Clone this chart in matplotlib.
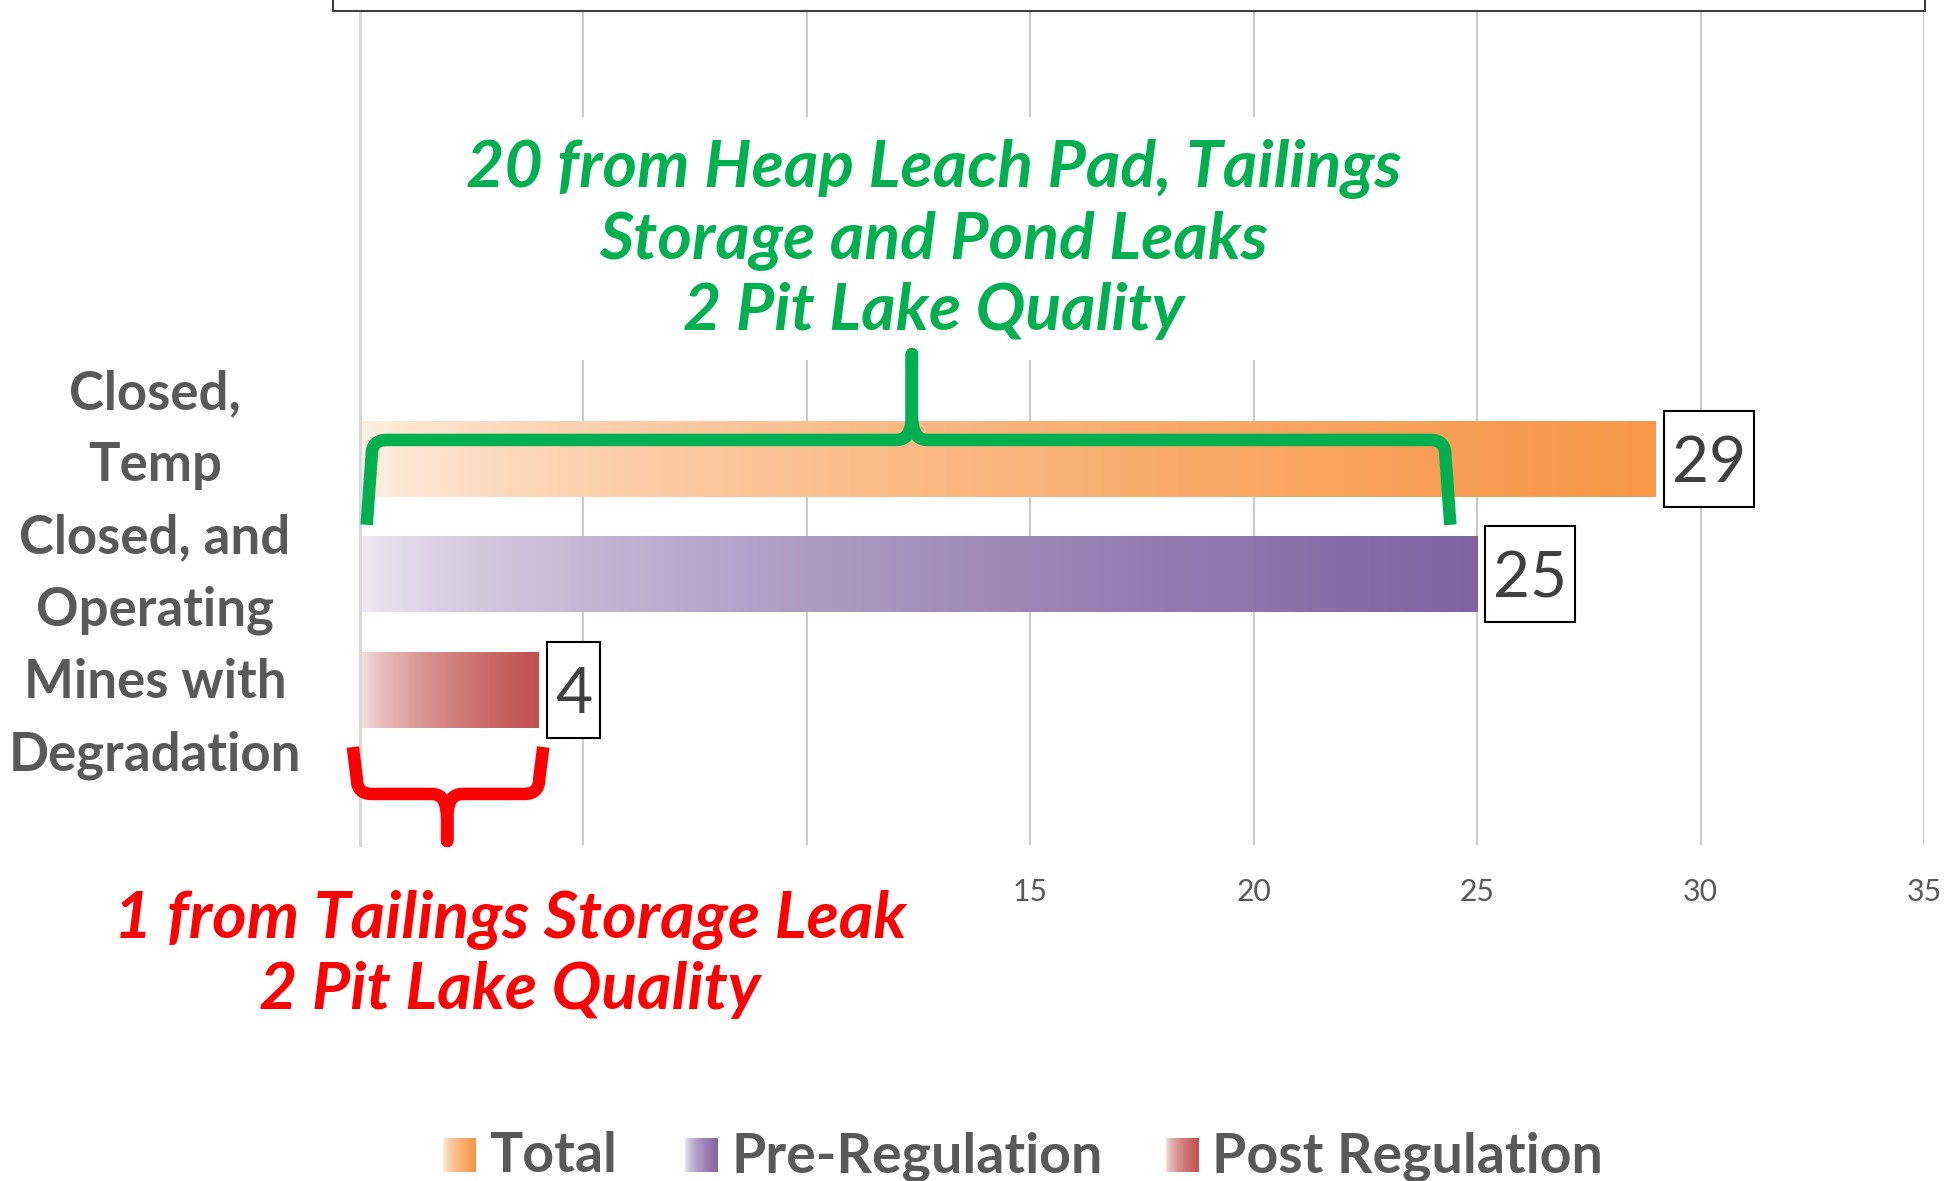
import numpy as np
import matplotlib.pyplot as plt
import matplotlib.colors as mcolors
from matplotlib.patches import Rectangle, PathPatch
from matplotlib.path import Path
from matplotlib.transforms import IdentityTransform

plt.rcParams['font.family'] = ['Lato', 'DejaVu Sans']

# Données du graphique
categorie = "Closed,\nTemp\nClosed, and\nOperating\nMines with\nDegradation"
series = ["Total", "Pre-Regulation", "Post Regulation"]
valeurs = [29, 25, 4]
couleurs = ["#F79646", "#8064A2", "#C0504D"]
graduations = [0, 5, 10, 15, 20, 25, 30, 35]
# 0, 5 et 10 sont masqués par la note rouge dans l'original
etiquettes_x = ["", "", "", "15", "20", "25", "30", "35"]

note_verte = "20 from Heap Leach Pad, Tailings\nStorage and Pond Leaks\n2 Pit Lake Quality"
note_rouge = "1 from Tailings Storage Leak\n2 Pit Lake Quality"

GRIS = "#595959"
VERT = "#00B050"
ROUGE = "#FF0000"

L, H, DPI = 1955, 1181, 100


def degrade(couleur, n=256, gamma=0.5):
    """Dégradé horizontal du blanc vers la couleur (style Excel)."""
    rgb = np.array(mcolors.to_rgb(couleur))
    t = np.linspace(0.02, 1, n) ** gamma
    img = 1 - t[:, None] * (1 - rgb[None, :])
    return img[None, :, :]


def accolade(ax, x0, x1, xp, y_bras, y_barre, y_pointe, couleur,
             r=15, inclin=4, c=16, hp=30):
    """Accolade dessinée en pixels à partir de points en coordonnées données."""
    T = ax.transData
    xg, ya = T.transform((x0, y_bras))
    xd, _ = T.transform((x1, y_bras))
    p, yb = T.transform((xp, y_barre))
    _, yt = T.transform((xp, y_pointe))
    s = 1 if yt > yb else -1
    sommets = [
        (xg, ya), (xg + inclin, yb - s * r), (xg + inclin, yb), (xg + inclin + r, yb),
        (p - c, yb), (p - 0.2 * c, yb), (p, yb + s * 0.3 * hp), (p, yb + s * hp),
        (p, yt), (p, yb + s * hp),
        (p, yb + s * 0.3 * hp), (p + 0.2 * c, yb), (p + c, yb),
        (xd - inclin - r, yb), (xd - inclin, yb), (xd - inclin, yb - s * r), (xd, ya),
    ]
    codes = [Path.MOVETO, Path.LINETO, Path.CURVE3, Path.CURVE3,
             Path.LINETO, Path.CURVE4, Path.CURVE4, Path.CURVE4,
             Path.LINETO, Path.LINETO,
             Path.CURVE4, Path.CURVE4, Path.CURVE4,
             Path.LINETO, Path.CURVE3, Path.CURVE3, Path.LINETO]
    ax.add_patch(PathPatch(Path(sommets, codes), fill=False, ec=couleur, lw=9,
                           joinstyle="round", capstyle="butt",
                           transform=IdentityTransform(), clip_on=False, zorder=6))


fig = plt.figure(figsize=(L / DPI, H / DPI), dpi=DPI)
ax = fig.add_axes([360 / L, 1 - 845 / H, 1564 / L, 845 / H])

# Barres en dégradé
decalages = np.array([1, 0, -1])
barres = ax.barh(decalages, valeurs, height=0.65, color="none", zorder=2)
for rect, couleur in zip(barres, couleurs):
    x, y = rect.get_x(), rect.get_y()
    w, h = rect.get_width(), rect.get_height()
    ax.imshow(degrade(couleur), extent=(x, x + w, y, y + h), aspect="auto",
              interpolation="bilinear", zorder=2)

ax.set_xlim(0, 35)
ax.set_ylim(-2.342, 4.974)
ax.set_xticks(graduations, etiquettes_x)
ax.set_axisbelow(True)
ax.xaxis.grid(True, color="#C9C9C9", lw=1.4)
for cote in ["top", "right", "bottom"]:
    ax.spines[cote].set_visible(False)
ax.spines["left"].set_color("#D9D9D9")
ax.spines["left"].set_linewidth(2.2)
ax.tick_params(axis="x", length=0, pad=24, labelsize=21.7, labelcolor=GRIS)
ax.tick_params(axis="y", length=0, pad=147.6)
ax.set_yticks([0])
ax.set_yticklabels([categorie])
for lbl in ax.get_yticklabels():
    lbl.set_fontsize(38)
    lbl.set_fontweight("bold")
    lbl.set_color(GRIS)
    lbl.set_horizontalalignment("center")
    lbl.set_verticalalignment("center")
    lbl.set_multialignment("center")
    lbl.set_linespacing(1.58)

# Notes manuscrites
ax.text(12.84, 2.90, note_verte, ha="center", va="center", fontsize=47.6,
        color=VERT, style="italic", fontweight="bold", linespacing=1.24,
        bbox=dict(boxstyle="square,pad=0.3", fc="white", ec="none"), zorder=5)
ax.text(3.36, -3.29, note_rouge, ha="center", va="center", fontsize=47.6,
        color=ROUGE, style="italic", fontweight="bold", linespacing=1.24,
        bbox=dict(boxstyle="square,pad=0.3", fc="white", ec="none"),
        zorder=5, clip_on=False)

accolade(ax, 0.15, 24.4, 12.35, 0.43, 1.165, 1.909, VERT, inclin=5)
accolade(ax, -0.16, 4.1, 1.95, -1.494, -1.90, -2.307, ROUGE)

# Étiquettes de valeurs encadrées
fig.canvas.draw()
rendu = fig.canvas.get_renderer()
for rect in barres:
    v = rect.get_width()
    yc = rect.get_y() + rect.get_height() / 2
    x0, y0 = ax.transData.transform((v, yc))
    t = ax.text(0, 0, f"{v:g}", fontsize=46, color="#404040", ha="center",
                va="center_baseline", transform=IdentityTransform(), zorder=5)
    larg = t.get_window_extent(rendu).width + 16
    gauche = x0 + 8
    t.set_position((gauche + larg / 2, y0))
    ax.add_patch(Rectangle((gauche, y0 - 48), larg, 96, transform=IdentityTransform(),
                           fc="white", ec="black", lw=1.5, zorder=4, clip_on=False))

# Légende
legende_x = [443, 685, 1166]
for nom, couleur, xg in zip(series, couleurs, legende_x):
    cax = fig.add_axes([xg / L, 1 - 1172 / H, 33 / L, 34 / H])
    cax.imshow(degrade(couleur), aspect="auto", interpolation="bilinear")
    cax.axis("off")
    fig.text((xg + 46) / L, 1 - 1172 / H, nom, fontsize=40, fontweight="bold",
             color=GRIS, va="baseline")

# Cadre du titre (coupé en haut de l'image)
fig.add_artist(Rectangle((333 / L, 1 - 11 / H), 1592 / L, 0.1, transform=fig.transFigure,
                         fc="white", ec="#3F3F3F", lw=1.5, zorder=10))

fig.savefig("out.png", dpi=DPI)
